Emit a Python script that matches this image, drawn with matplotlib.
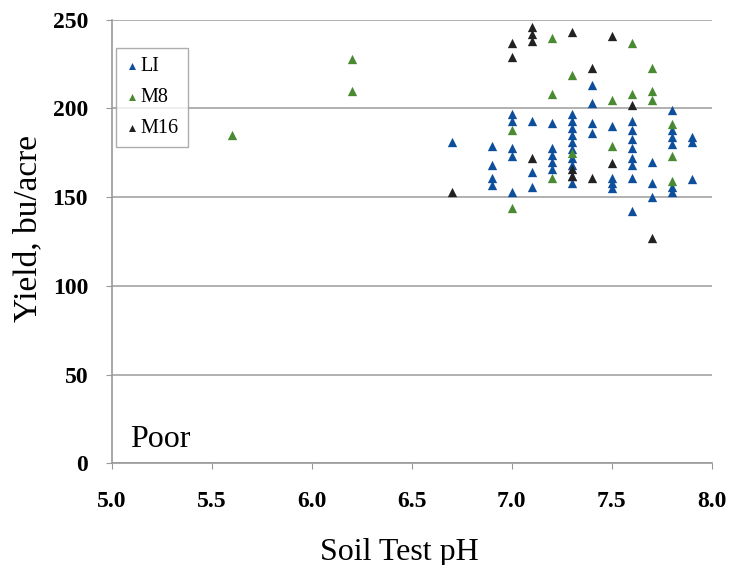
import matplotlib.pyplot as plt

plt.rcParams['font.family'] = ['Liberation Serif', 'DejaVu Serif']

# Soil test pH and yield (bu/acre) for each hybrid
li_ph = [6.7,
         6.9, 6.9, 6.9, 6.9,
         7.0, 7.0, 7.0, 7.0, 7.0,
         7.1, 7.1, 7.1,
         7.2, 7.2, 7.2, 7.2, 7.2,
         7.3, 7.3, 7.3, 7.3, 7.3, 7.3, 7.3, 7.3, 7.3, 7.3,
         7.4, 7.4, 7.4, 7.4,
         7.5, 7.5, 7.5, 7.5,
         7.6, 7.6, 7.6, 7.6, 7.6, 7.6, 7.6, 7.6,
         7.7, 7.7, 7.7,
         7.8, 7.8, 7.8, 7.8, 7.8, 7.8,
         7.9, 7.9, 7.9]
li_yield = [181,
            179, 168, 161, 157,
            197, 193, 178, 173, 153,
            193, 164, 156,
            192, 178, 174, 170, 166,
            197, 193, 189, 185, 181, 177, 172, 168, 162, 158,
            213, 203, 192, 186,
            190, 161, 158, 155,
            193, 188, 183, 178, 172, 168, 161, 142,
            170, 158, 150,
            199, 188, 184, 180, 156, 153,
            184, 181, 160]

m8_ph = [5.6, 6.2, 6.2, 7.0, 7.0, 7.2, 7.2, 7.2, 7.3, 7.3,
         7.5, 7.5, 7.6, 7.6, 7.7, 7.7, 7.7, 7.8, 7.8, 7.8]
m8_yield = [185, 228, 210, 188, 144, 240, 208, 161, 219, 175,
            205, 179, 237, 208, 223, 210, 205, 191, 173, 159]

m16_ph = [6.7, 7.0, 7.0, 7.1, 7.1, 7.1, 7.1, 7.3, 7.3, 7.3,
          7.4, 7.4, 7.5, 7.5, 7.6, 7.7]
m16_yield = [153, 237, 229, 246, 242, 238, 172, 243, 166, 162,
             223, 161, 241, 169, 202, 127]

x_ticks = [5.0, 5.5, 6.0, 6.5, 7.0, 7.5, 8.0]
y_ticks = [0, 50, 100, 150, 200, 250]

fig = plt.figure(figsize=(7.3, 5.65), dpi=100)
ax = fig.add_axes([0.153, 0.18, 0.822, 0.785])

ax.scatter(li_ph, li_yield, marker='^', s=45, color='#0d4f9c', label='LI', zorder=3, linewidths=0)
ax.scatter(m8_ph, m8_yield, marker='^', s=45, color='#4a8a32', label='M8', zorder=3, linewidths=0)
ax.scatter(m16_ph, m16_yield, marker='^', s=45, color='#222222', label='M16', zorder=4, linewidths=0)

ax.set_xlim(5.0, 8.0)
ax.set_ylim(0, 250)
ax.set_xticks(x_ticks)
ax.set_xticklabels([f'{t:.1f}' for t in x_ticks])
ax.set_yticks(y_ticks)
ax.yaxis.grid(True, color='#aaaaaa', linewidth=1.3)
ax.set_axisbelow(True)

for side in ['top', 'right']:
    ax.spines[side].set_visible(False)
for side in ['left', 'bottom']:
    ax.spines[side].set_color('#999999')
    ax.spines[side].set_linewidth(1.2)

ax.tick_params(axis='x', length=4, color='#999999', labelsize=17, pad=16)
ax.tick_params(axis='y', length=4, color='#999999', labelsize=17, pad=13)
for lab in ax.get_xticklabels() + ax.get_yticklabels():
    lab.set_fontweight('bold')

ax.set_xlabel('Soil Test pH', fontsize=23, va='center')
ax.xaxis.set_label_coords(0.48, -0.2)
ax.set_ylabel('Yield, bu/acre', fontsize=24, va='center')
ax.yaxis.set_label_coords(-0.14, 0.53)

ax.text(5.09, 9, 'Poor', fontsize=23)

leg = ax.legend(loc='upper left', bbox_to_anchor=(0.008, 0.937), fontsize=14.5,
                frameon=True, fancybox=False, handletextpad=0.15,
                handlelength=0.6, borderpad=0.45, labelspacing=0.6,
                borderaxespad=0, markerscale=0.75)
leg.get_frame().set_edgecolor('#999999')
leg.get_frame().set_linewidth(1.0)

fig.savefig('out.png', dpi=100)
